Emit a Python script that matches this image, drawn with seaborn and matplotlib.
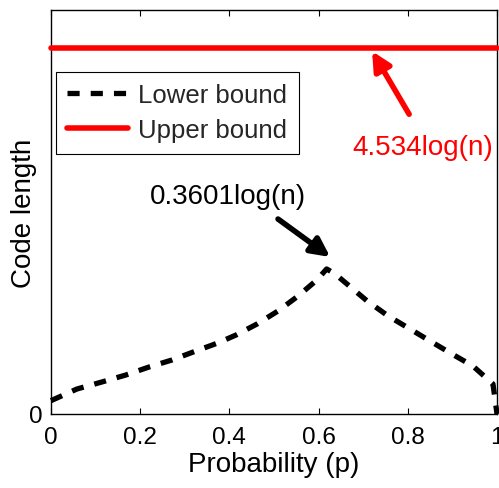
import matplotlib
matplotlib.use("Agg")
import matplotlib.pyplot as plt
import seaborn as sns
import pandas as pd

sns.set_theme(style="white")
plt.rcParams['font.family'] = ['Liberation Sans', 'DejaVu Sans']

# Data
p_lower = [0.0, 0.058, 0.114, 0.168, 0.220, 0.271, 0.325, 0.374, 0.415, 0.462,
           0.509, 0.554, 0.596, 0.618, 0.637, 0.709, 0.756, 0.805, 0.850, 0.899,
           0.946, 0.991, 1.0]
lower = [0.165, 0.309, 0.396, 0.483, 0.582, 0.668, 0.780, 0.879, 0.978, 1.114,
         1.275, 1.460, 1.658, 1.795, 1.733, 1.398, 1.213, 1.052, 0.903, 0.743,
         0.594, 0.371, 0.0]
p_upper = [0.0, 1.0]
upper = [4.534, 4.534]
xticks = [0, 0.2, 0.4, 0.6, 0.8, 1]
xticklabels = ["0", "0.2", "0.4", "0.6", "0.8", "1"]
yticks = [0]
yticklabels = ["0"]

df_low = pd.DataFrame({"p": p_lower, "v": lower})
df_up = pd.DataFrame({"p": p_upper, "v": upper})

fig = plt.figure(figsize=(4.99, 4.89), dpi=100)
ax = fig.add_axes([51/499, 74/489, 446/499, 404/489])

sns.lineplot(data=df_low, x="p", y="v", ax=ax, color="black", lw=3.8,
             label="Lower bound", zorder=3)
sns.lineplot(data=df_up, x="p", y="v", ax=ax, color="#ff0000", lw=4.0,
             label="Upper bound", zorder=3)
ax.lines[0].set_dashes((2.3, 2.1))
ax.lines[0].set_dash_capstyle('butt')
for ln in ax.lines:
    ln.set_clip_on(False)

ax.set_xlim(0, 1)
ax.set_ylim(0, 5)
ax.set_xticks(xticks)
ax.set_xticklabels(xticklabels)
ax.set_yticks(yticks)
ax.set_yticklabels(yticklabels)
ax.tick_params(axis='both', direction='in', length=4, width=0.8, labelsize=17.5,
               colors='black', top=True, bottom=True, left=True, right=False)
ax.tick_params(axis='x', pad=9)
ax.tick_params(axis='y', length=0, pad=6)
for s in ax.spines.values():
    s.set_color('black')
    s.set_linewidth(1.0)

ax.set_xlabel("Probability (p)", fontsize=20, color='black', labelpad=2)
ax.set_ylabel("Code length", fontsize=20, color='black')
ax.yaxis.set_label_coords(-0.032, 0.50)

leg = ax.legend(loc='upper left', bbox_to_anchor=(0.011, 0.847), borderaxespad=0,
                fontsize=18.5, frameon=True, fancybox=False, handlelength=2.35,
                handletextpad=0.4, borderpad=0.45, labelspacing=0.42)
leg.get_frame().set_edgecolor('black')
leg.get_frame().set_linewidth(0.8)
leg.get_frame().set_alpha(1)

# Annotations
ax.text(0.397, 2.70, "0.3601log(n)", fontsize=20, color='black', ha='center', va='center')
ax.annotate("", xy=(0.626, 1.943), xytext=(0.509, 2.413),
            arrowprops=dict(arrowstyle='-|>', color='black', lw=4, mutation_scale=28,
                            shrinkA=0, shrinkB=0))
ax.text(0.834, 3.30, "4.534log(n)", fontsize=20, color='#ff0000', ha='center', va='center')
ax.annotate("", xy=(0.72, 4.49), xytext=(0.803, 3.71),
            arrowprops=dict(arrowstyle='-|>', color='#ff0000', lw=4, mutation_scale=28,
                            shrinkA=0, shrinkB=0))

fig.savefig("out.png", dpi=100)
